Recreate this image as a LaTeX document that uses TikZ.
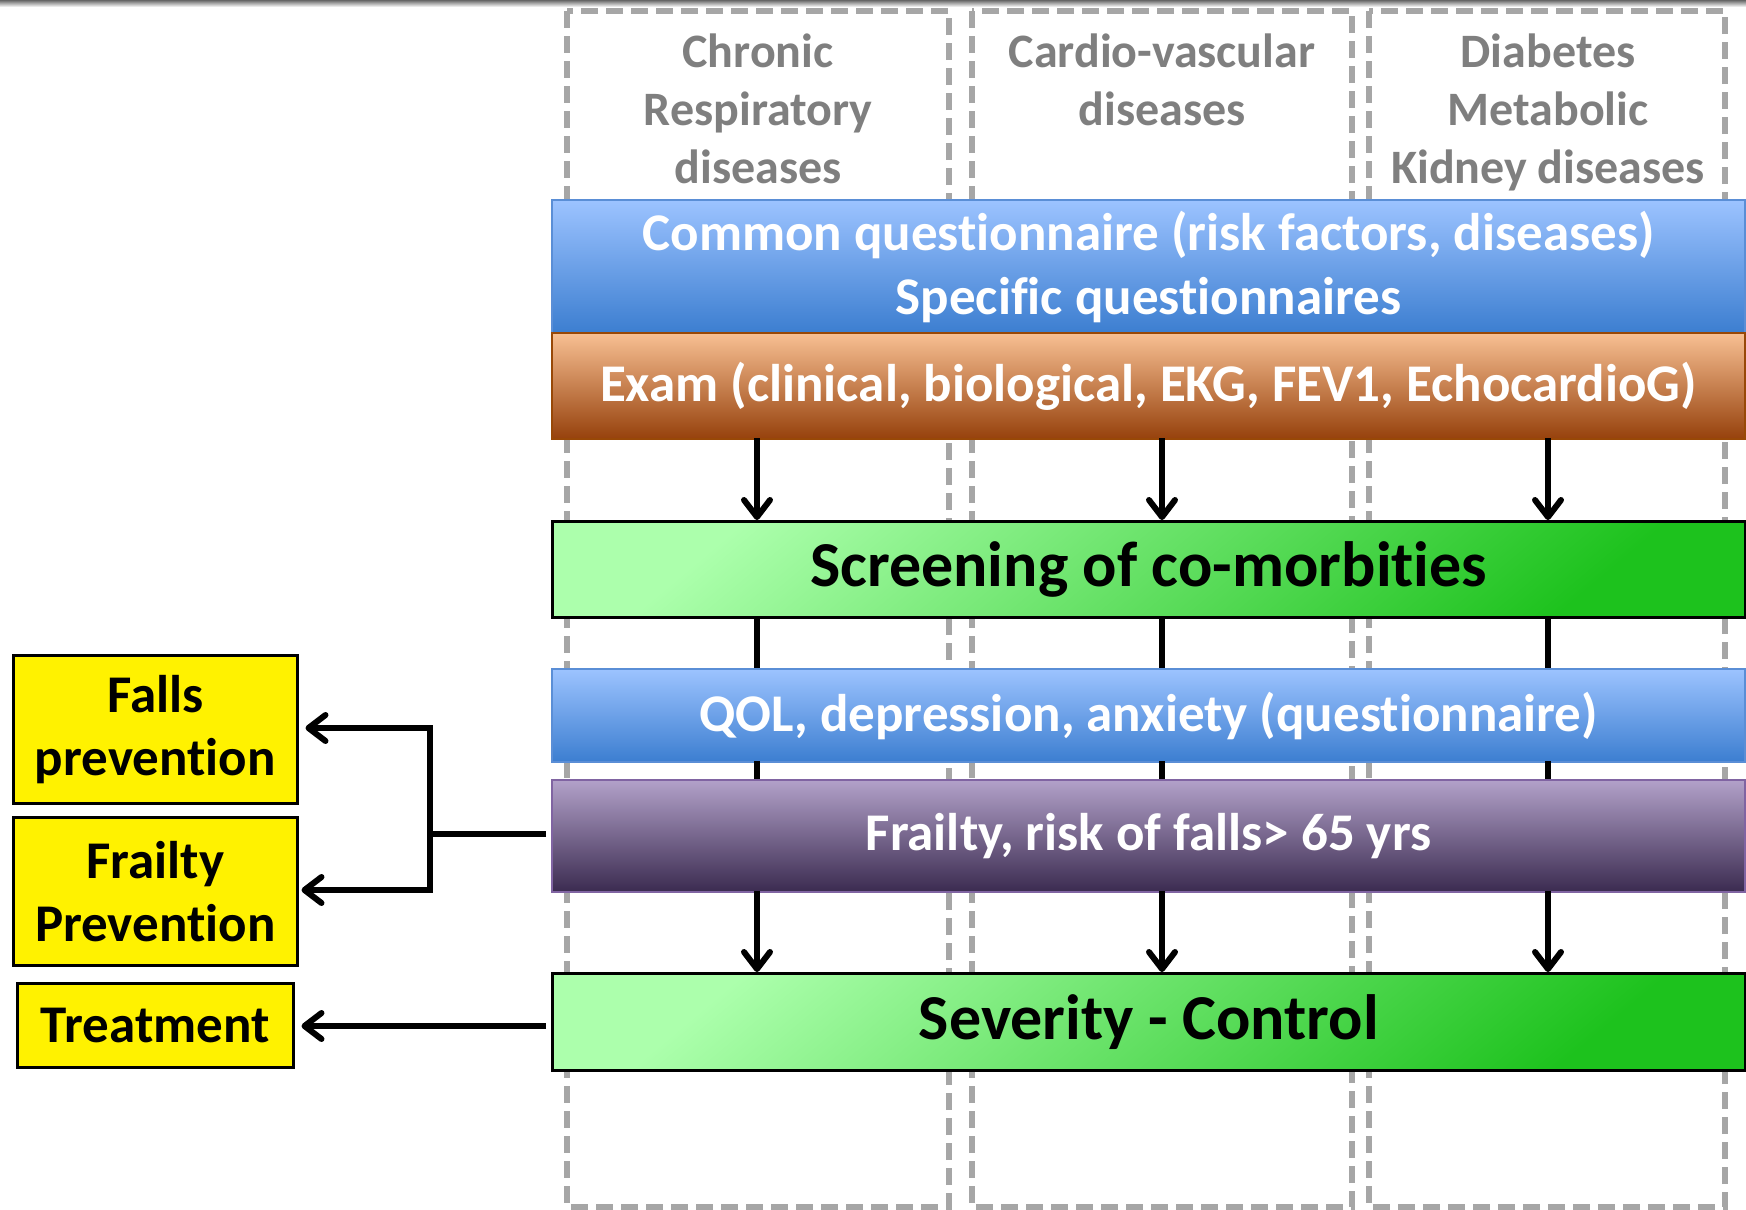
\documentclass[tikz,border=0pt]{standalone}
\usepackage{fontspec}
\setmainfont[Ligatures={CommonOff,ContextualOff}]{Carlito}
\usetikzlibrary{arrows.meta}
\definecolor{colgray}{HTML}{A6A6A6}
\definecolor{labgray}{HTML}{7F7F7F}
\definecolor{bluetop}{HTML}{9CC3FF}
\definecolor{bluebot}{HTML}{3C7ED0}
\definecolor{blueline}{HTML}{5A8ED6}
\definecolor{orgtop}{HTML}{F8C093}
\definecolor{orgbot}{HTML}{96410C}
\definecolor{orgline}{HTML}{984807}
\definecolor{grntop}{HTML}{ACFFAC}
\definecolor{grnbot}{HTML}{1DC21D}
\definecolor{purtop}{HTML}{B2A1C9}
\definecolor{purbot}{HTML}{3B2B50}
\definecolor{purline}{HTML}{8064A2}
\begin{document}
\begin{tikzpicture}[x=1pt,y=-1pt,
  colbox/.style={draw=colgray,line width=5.5pt,dash pattern=on 17pt off 8pt},
  collab/.style={text=labgray,font=\bfseries\fontsize{48}{58}\selectfont,align=center,anchor=north},
  bar/.style={anchor=north west,minimum width=1193pt,inner sep=0pt,align=center},
  bluebar/.style={bar,draw=blueline,line width=2pt,top color=bluetop,bottom color=bluebot,text=white,font=\bfseries\fontsize{53}{64}\selectfont},
  orgbar/.style={bar,draw=orgline,line width=2pt,top color=orgtop,bottom color=orgbot,text=white,font=\bfseries\fontsize{53}{64}\selectfont},
  grnbar/.style={bar,draw=black,line width=2.5pt,top color=grntop,bottom color=grnbot,shading angle=40,text=black,font=\bfseries\fontsize{64}{64}\selectfont},
  purbar/.style={bar,draw=purline,line width=2pt,top color=purtop,bottom color=purbot,text=white,font=\bfseries\fontsize{53}{64}\selectfont},
  ybox/.style={anchor=north west,draw=black,line width=2.5pt,fill=yellow,inner sep=0pt,align=center,font=\bfseries\fontsize{53}{63}\selectfont},
  conn/.style={draw=black,line width=6pt},
  arr/.style={conn,-{Straight Barb[length=17pt,width=26pt,line width=6pt,round]}}
]
\useasboundingbox (0,0) rectangle (1746,1210);
\shade[top color=black!60,bottom color=white] (0,0) rectangle (1746,7);
% columns
\draw[colbox] (567,11) rectangle (949,1207);
\draw[colbox] (972,11) rectangle (1352,1207);
\draw[colbox] (1369,11) rectangle (1725,1207);
\node[collab] (c1) at (758,30) {Chronic\\Respiratory\\diseases};
\node[collab] (c2) at (1162,30) {Cardio-vascular\\diseases};
\node[collab] (c3) at (1548,30) {Diabetes\\Metabolic\\Kidney diseases};
% bars
\node[bluebar,minimum height=133pt] (q) at (551,199) {Common questionnaire (risk factors, diseases)\\Specific questionnaires};
\node[orgbar,minimum height=106pt] (ex) at (551,332) {Exam (clinical, biological, EKG, FEV1, EchocardioG)};
\node[grnbar,minimum height=96pt] (sc) at (551,520) {Screening of co-morbities};
\node[bluebar,minimum height=93pt] (qol) at (551,668) {QOL, depression, anxiety (questionnaire)};
\node[purbar,minimum height=112pt] (fr) at (551,779) {Frailty, risk of falls> 65 yrs};
\node[grnbar,minimum height=97pt] (sev) at (551,972) {Severity - Control};
% vertical connectors
\foreach \xx in {757,1162,1548}{
  \draw[arr] (\xx,438) -- (\xx,520);
  \draw[conn] (\xx,616) -- (\xx,668);
  \draw[conn] (\xx,761) -- (\xx,779);
  \draw[arr] (\xx,891) -- (\xx,972);
}
% yellow boxes
\node[ybox,minimum width=284pt,minimum height=148pt] (fp) at (12,654) {Falls\\prevention};
\node[ybox,minimum width=284pt,minimum height=148pt] (fy) at (12,816) {Frailty\\Prevention};
\node[ybox,minimum width=276pt,minimum height=84pt] (tr) at (16,982) {Treatment};
% side connectors
\coordinate (j) at (430,834);
\draw[conn] (546,834) -- (j);
\draw[arr] (j) |- ([xshift=7pt]fp.east |- 0,728);
\draw[arr] (j) |- ([xshift=3pt]fy.east |- 0,890);
\draw[arr] (546,1026) -- ([xshift=7pt]tr.east |- 0,1026);
\end{tikzpicture}
\end{document}
